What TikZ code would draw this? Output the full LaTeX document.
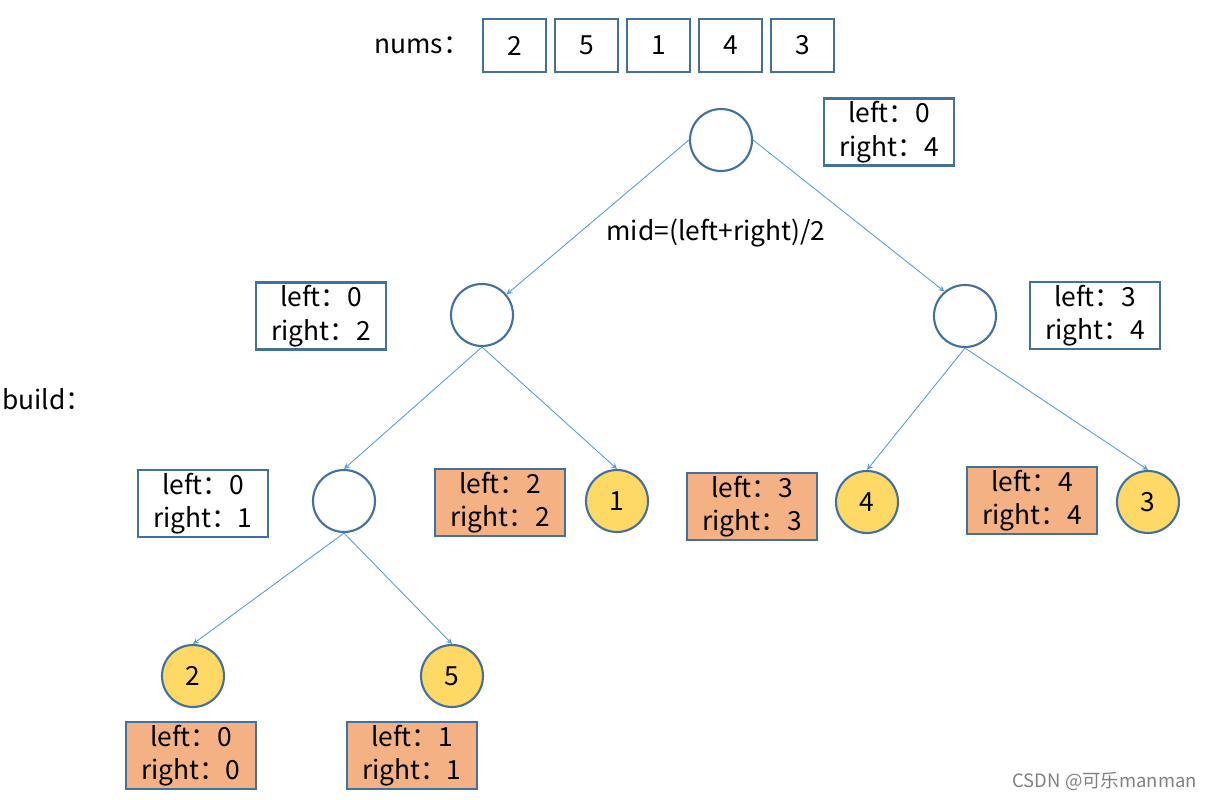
\documentclass[tikz,border=0pt]{standalone}
\usepackage{fontspec}
\setmainfont{Noto Sans CJK SC}
\usepackage{xcolor}
\usetikzlibrary{calc}

\definecolor{edgeblue}{RGB}{91,155,213}
\definecolor{lineblue}{RGB}{65,113,156}
\definecolor{leafyellow}{RGB}{255,217,102}
\definecolor{rangeorange}{RGB}{244,177,131}

\tikzset{
	every node/.style={font=\fontsize{15}{19}\selectfont},
	numbox/.style={draw=lineblue, line width=1.2pt, minimum width=63*0.02cm, minimum height=53*0.02cm},
	rangebox/.style={draw=lineblue, line width=1.2pt, align=center, minimum width=130*0.02cm, minimum height=67*0.02cm, inner sep=1pt},
	donebox/.style={rangebox, fill=rangeorange},
	treenode/.style={circle, draw=lineblue, line width=1.2pt, minimum size=62*0.02cm, inner sep=0pt},
	leafnode/.style={treenode, fill=leafyellow},
}

\begin{document}
\begin{tikzpicture}[x=0.02cm, y=-0.02cm]
			\useasboundingbox (0,0) rectangle (1215,800);
			
			\node (numslabel) at (422,45) {nums：};
			\foreach \v [count=\i] in {2,5,1,4,3}
			{
				\node [numbox] (num\i) at (442.5+72*\i,45.5) {\v};
			}
			
			\node [treenode] (root) at (721,140) {};
			\node [rangebox] (rroot) at (889,132) {left：0\\right：4};
			\node (midlabel) at (716,233) {mid=(left+right)/2};
			
			\node [treenode] (l) at (482,315) {};
			\node [rangebox] (rl) at (321,316) {left：0\\right：2};
			\node [treenode] (r) at (965,316) {};
			\node [rangebox] (rr) at (1095,315.5) {left：3\\right：4};
			
			\node [anchor=west] (buildlabel) at (-4,399) {build：};
			
			\node [treenode] (ll) at (344,501) {};
			\node [rangebox] (rll) at (203,503.5) {left：0\\right：1};
			\node [donebox] (rlr) at (500,502.5) {left：2\\right：2};
			\node [leafnode] (lr) at (617,501) {1};
			\node [donebox] (rrl) at (752,506.5) {left：3\\right：3};
			\node [leafnode] (rl2) at (867,502) {4};
			\node [donebox] (rrr) at (1032,500.5) {left：4\\right：4};
			\node [leafnode] (rr2) at (1148,502) {3};
			
			\node [leafnode] (lll) at (193,676) {2};
			\node [donebox] (rlll) at (191,755.5) {left：0\\right：0};
			\node [leafnode] (llr) at (452,676) {5};
			\node [donebox] (rllr) at (412,755.5) {left：1\\right：1};
			
			\begin{scope}[edgeblue, line width=0.5pt, -stealth]
				\draw (root.west) -- (l.40);
				\draw (root.east) -- (r.130);
				\draw (l.south) -- (ll.north);
				\draw (l.south) -- (lr.north);
				\draw (r.south) -- (rl2.north);
				\draw (r.south) -- (rr2.north);
				\draw (ll.south) -- (lll.north);
				\draw (ll.south) -- (llr.north);
			\end{scope}
			
			\node [gray, anchor=east, font=\fontsize{10.5}{12}\selectfont] (mark) at (1203,781) {CSDN @可乐manman};
		\end{tikzpicture}
\end{document}
